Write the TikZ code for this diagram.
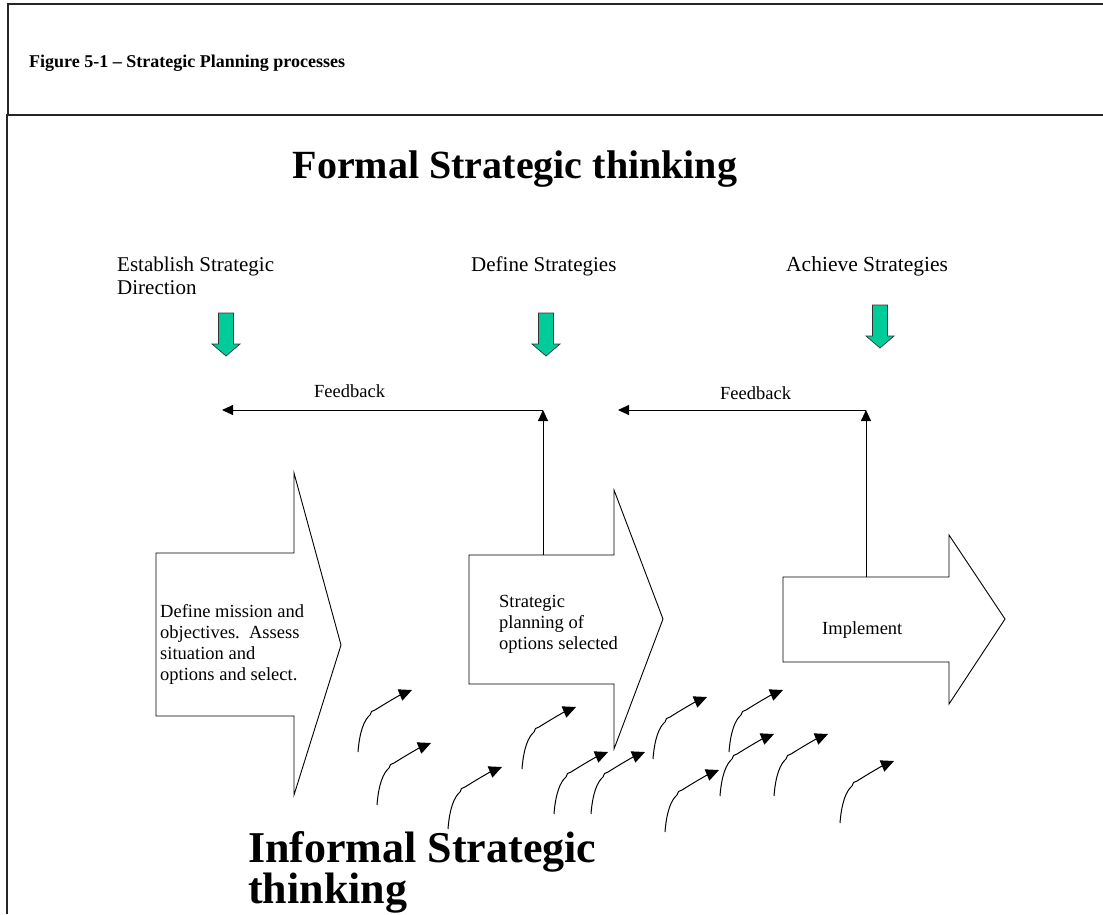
\documentclass[tikz,border=0pt]{standalone}
\usepackage{fontspec}
\setmainfont{Liberation Serif}
\usetikzlibrary{arrows.meta}
\definecolor{greenarrow}{RGB}{0,204,153}
\begin{document}
\begin{tikzpicture}[x=1pt,y=-1pt,
  frame/.style={line width=1.3pt, black!85},
  bigarrow/.style={draw, line width=0.9pt, fill=white},
  greenarr/.style={draw=black!80, line width=0.7pt, fill=greenarrow},
  fb/.style={draw, line width=0.9pt, -{Triangle[length=11pt,width=10pt]}},
  lbl/.style={inner sep=0pt, anchor=base west, font=\fontsize{21}{23}\selectfont},
  boxtxt/.style={inner sep=0pt, anchor=north west, align=left, font=\fontsize{18.5}{21}\selectfont},
  fbtxt/.style={inner sep=0pt, anchor=base west, font=\fontsize{18.5}{21}\selectfont},
  squig/.pic={\draw[line width=1pt, -{Triangle[length=13pt,width=12pt]}] (0,0) .. controls (1.5,-20) and (6,-32) .. (12,-37) -- (13.5,-40.5) -- (17,-42) .. controls (28,-49) and (42,-57) .. (54,-62);},
  greendown/.pic={\draw[greenarr] (-7.5,0) -- (7.5,0) -- (7.5,31) -- (14,31) -- (0,43) -- (-14,31) -- (-7.5,31) -- cycle;}
]
\useasboundingbox (0,0) rectangle (1103,914);
% frame
\draw[frame] (1103,4) -- (8,4) -- (8,115);
\draw[frame] (1103,115) -- (7,115) -- (7,914);
% title
\node[lbl, font=\bfseries\fontsize{18}{21}\selectfont] (title) at (29,67) {Figure 5-1 – Strategic Planning processes};
\node[inner sep=0pt, anchor=base, font=\bfseries\fontsize{40}{46}\selectfont] (formal) at (515,178) {Formal Strategic thinking};
% stage labels
\node[inner sep=0pt, anchor=north west, align=left, font=\fontsize{21}{23}\selectfont] (l1) at (117,256.5) {Establish Strategic\\Direction};
\node[lbl] (l2) at (471,271) {Define Strategies};
\node[lbl, font=\fontsize{21.5}{23}\selectfont] (l3) at (786,271) {Achieve Strategies};
% green arrows
\pic at (226,313) {greendown};
\pic at (546,313) {greendown};
\pic at (880,305) {greendown};
% big arrows
\draw[bigarrow] (156,553) -- (294,553) -- (294,473) -- (341,645) -- (294,795) -- (294,716) -- (156,716) -- cycle;
\draw[bigarrow] (469,555) -- (614,555) -- (614,490) -- (663,619) -- (614,749) -- (614,684) -- (469,684) -- cycle;
\draw[bigarrow] (783,577) -- (949,577) -- (949,535) -- (1005,619) -- (949,704) -- (949,662) -- (783,662) -- cycle;
\node[boxtxt] (t1) at (160,604) {Define mission and\\objectives.\ \ Assess\\situation and\\options and select.};
\node[boxtxt] (t2) at (499,595) {Strategic\\planning of\\options selected};
\node[fbtxt] (t3) at (822,634) {Implement};
% feedback
\coordinate (a2top) at (543,555);
\coordinate (fb1c) at (543,410);
\coordinate (fb1e) at (222,410);
\coordinate (a3top) at (866,577);
\coordinate (fb2c) at (866,410);
\coordinate (fb2e) at (618,410);
\draw[fb] (a2top) -- (fb1c);
\draw[fb] (fb1c) -- (fb1e);
\draw[fb] (a3top) -- (fb2c);
\draw[fb] (fb2c) -- (fb2e);
\node[fbtxt] (fbl1) at (314,397) {Feedback};
\node[fbtxt] (fbl2) at (720,399) {Feedback};
% informal thinking squiggles
\foreach \px/\py in {358/752, 377/805, 448/829, 522/769, 554/814, 591/814, 653/759, 729/752, 665/832, 720/796, 774/796, 840/823}
  \pic at (\px,\py) {squig};
\node[inner sep=0pt, anchor=north west, align=left, font=\bfseries\fontsize{44}{39}\selectfont] (informal) at (248,831) {Informal Strategic\\thinking};
\end{tikzpicture}
\end{document}
